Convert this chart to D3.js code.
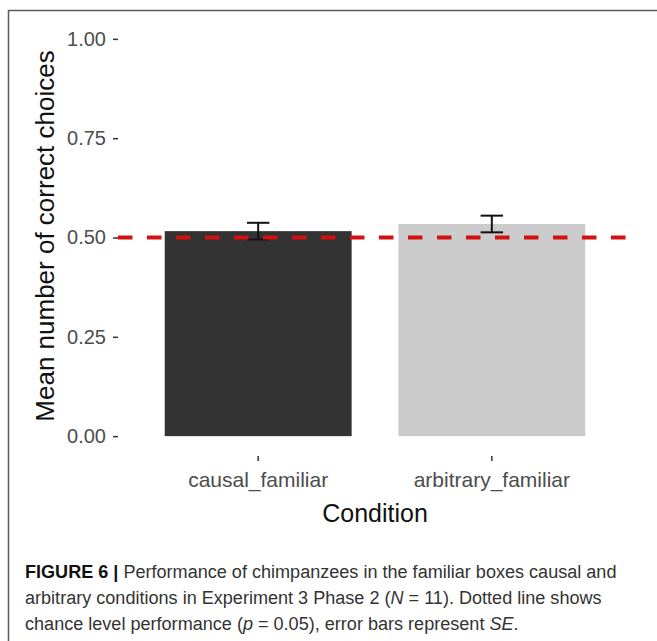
<!DOCTYPE html>
<html>
<head>
<meta charset="utf-8">
<script src="https://cdn.jsdelivr.net/npm/d3@7"></script>
<style>
  html, body { margin: 0; padding: 0; background: #ffffff; }
  svg { display: block; font-family: "Liberation Sans", Arial, sans-serif; }
</style>
</head>
<body>
<svg id="fig" width="657" height="641"></svg>
<script>
// Mean proportion of correct choices per condition, with standard errors
const conditions = ["causal_familiar", "arbitrary_familiar"];
const means = [0.516, 0.534];
const stdErrors = [0.021, 0.021];
const barColors = ["#333333", "#cccccc"];
const chanceLevel = 0.5;
const yTicks = [0, 0.25, 0.5, 0.75, 1.0];
const yTitle = "Mean number of correct choices";
const xTitle = "Condition";
const captionLines = [
  [{ t: "FIGURE 6 | ", b: true }, { t: "Performance of chimpanzees in the familiar boxes causal and" }],
  [{ t: "arbitrary conditions in Experiment 3 Phase 2 (" }, { t: "N", i: true }, { t: " = 11). Dotted line shows" }],
  [{ t: "chance level performance (" }, { t: "p", i: true }, { t: " = 0.05), error bars represent " }, { t: "SE", i: true }, { t: "." }]
];

const svg = d3.select("#fig");

// frame around the figure
svg.append("path")
  .attr("d", "M8.5,641 V10.5 H657")
  .attr("fill", "none")
  .attr("stroke", "#5a5a5a")
  .attr("stroke-width", 1.5);

const panel = { left: 118, right: 632, top: 19, bottom: 456 };

const x = d3.scaleBand()
  .domain(conditions)
  .range([panel.left, panel.right])
  .paddingInner(0.2)
  .paddingOuter(0.2);

const y = d3.scaleLinear()
  .domain([-0.05, 1.05])
  .range([panel.bottom, panel.top]);

const rows = conditions.map((c, i) => ({ c, m: means[i], se: stdErrors[i], col: barColors[i] }));

// bars
svg.append("g").selectAll("rect")
  .data(rows)
  .join("rect")
  .attr("x", d => x(d.c))
  .attr("width", x.bandwidth())
  .attr("y", d => y(d.m))
  .attr("height", d => y(0) - y(d.m))
  .attr("fill", d => d.col);

// error bars (mean ± SE)
const capHalf = x.bandwidth() * 0.06;
const eb = svg.append("g").attr("stroke", "#111").attr("stroke-width", 2).attr("fill", "none");
rows.forEach(d => {
  const cx = x(d.c) + x.bandwidth() / 2;
  const lo = y(d.m - d.se), hi = y(d.m + d.se);
  eb.append("line").attr("x1", cx).attr("x2", cx).attr("y1", lo).attr("y2", hi);
  eb.append("line").attr("x1", cx - capHalf).attr("x2", cx + capHalf).attr("y1", lo).attr("y2", lo);
  eb.append("line").attr("x1", cx - capHalf).attr("x2", cx + capHalf).attr("y1", hi).attr("y2", hi);
});

// chance level line
svg.append("line")
  .attr("x1", panel.left).attr("x2", panel.right)
  .attr("y1", y(chanceLevel)).attr("y2", y(chanceLevel))
  .attr("stroke", "#d41010")
  .attr("stroke-width", 4)
  .attr("stroke-dasharray", "14.5 14.5");

// y axis
const yAxis = svg.append("g")
  .attr("transform", `translate(${panel.left},0)`)
  .call(d3.axisLeft(y).tickValues(yTicks).tickFormat(d3.format(".2f")).tickSize(5).tickPadding(7));
yAxis.select(".domain").remove();
yAxis.selectAll(".tick line").attr("stroke", "#333").attr("stroke-width", 1.5);
yAxis.selectAll(".tick text").attr("fill", "#4d4d4d").style("font-size", "20px");

// x axis
const xAxis = svg.append("g")
  .attr("transform", `translate(0,${panel.bottom})`)
  .call(d3.axisBottom(x).tickSize(5).tickPadding(11));
xAxis.select(".domain").remove();
xAxis.selectAll(".tick line").attr("stroke", "#333").attr("stroke-width", 1.5);
xAxis.selectAll(".tick text").attr("fill", "#4d4d4d").style("font-size", "21px");

// axis titles
svg.append("text")
  .attr("transform", `translate(54,236) rotate(-90)`)
  .attr("text-anchor", "middle")
  .attr("fill", "#111")
  .style("font-size", "26px")
  .text(yTitle);

svg.append("text")
  .attr("x", (panel.left + panel.right) / 2)
  .attr("y", 522)
  .attr("text-anchor", "middle")
  .attr("fill", "#111")
  .style("font-size", "25px")
  .text(xTitle);

// caption: three lines sharing one horizontal scale so the second line fills its width
const capX = 25, capBase = 578, capStep = 26, line2Width = 577;
const capTexts = captionLines.map((line, i) => {
  const t = svg.append("text")
    .attr("fill", "#333")
    .style("font-size", "19px");
  line.forEach(seg => {
    t.append("tspan")
      .style("font-weight", seg.b ? "bold" : "normal")
      .style("font-style", seg.i ? "italic" : "normal")
      .attr("fill", seg.b ? "#111" : "#333")
      .text(seg.t);
  });
  return t;
});
const sx = line2Width / capTexts[1].node().getComputedTextLength();
capTexts.forEach((t, i) => {
  t.attr("transform", `translate(${capX},${capBase + i * capStep}) scale(${sx},1)`);
});
</script>
</body>
</html>
